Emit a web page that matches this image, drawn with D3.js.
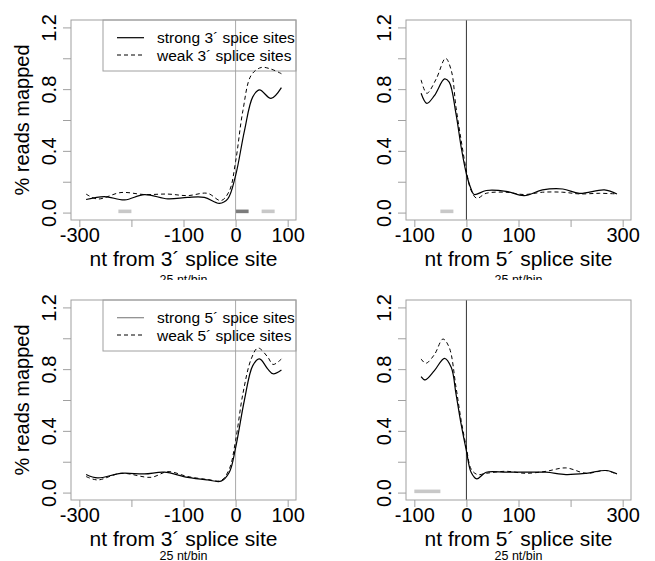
<!DOCTYPE html>
<html><head><meta charset="utf-8">
<script src="https://cdn.jsdelivr.net/npm/d3@7"></script>
<style>
html,body{margin:0;padding:0;background:#fff;}
svg{display:block;font-family:"Liberation Sans",Arial,Helvetica,sans-serif;}
</style></head>
<body><svg id="c" width="655" height="561"></svg>
<script>
// ---------- data ----------
const xTicks3 = [-300, -200, -100, 0, 100];
const xLabels3 = ["-300", "", "-100", "0", "100"];
const xTicks5 = [-100, 0, 100, 200, 300];
const xLabels5 = ["-100", "0", "100", "", "300"];
const yTicks = [0, 0.2, 0.4, 0.6, 0.8, 1.0, 1.2];
const yLabels = ["0.0", "", "0.4", "", "0.8", "", "1.2"];

const xTitle3 = "nt from 3\u00B4 splice site";
const xTitle5 = "nt from 5\u00B4 splice site";
const subTitle = "25 nt/bin";
const yTitle = "% reads mapped";
const legendTop = ["strong 3\u00B4 spice sites", "weak 3\u00B4 splice sites"];
const legendBottom = ["strong 5\u00B4 spice sites", "weak 5\u00B4 splice sites"];

// top-left (strong / weak 3' splice sites, around 3' site)
const tlStrongX = [-287, -252, -213, -175, -130, -92, -60, -31, -15, 0, 17, 33, 46, 68, 88];
const tlStrongY = [0.085, 0.104, 0.082, 0.117, 0.089, 0.099, 0.099, 0.06, 0.089, 0.24, 0.53, 0.75, 0.795, 0.74, 0.81];
const tlWeakX = [-287, -265, -220, -175, -130, -92, -54, -28, -12, 0, 14, 30, 49, 68, 88];
const tlWeakY = [0.12, 0.088, 0.13, 0.117, 0.12, 0.11, 0.125, 0.078, 0.14, 0.33, 0.66, 0.89, 0.94, 0.93, 0.90];
// top-right (around 5' site)
const trStrongX = [-87, -76, -61.5, -42, -33, -20, -10, 0, 9, 15, 38, 76, 111, 146, 185, 217, 265, 289];
const trStrongY = [0.773, 0.708, 0.758, 0.866, 0.845, 0.64, 0.423, 0.25, 0.153, 0.117, 0.143, 0.138, 0.11, 0.147, 0.153, 0.125, 0.147, 0.121];
const trWeakX = [-87, -76, -58, -40, -29, -20, -10, 0, 9, 20, 38, 76, 111, 146, 185, 217, 256, 289];
const trWeakY = [0.86, 0.773, 0.866, 1.0, 0.92, 0.683, 0.466, 0.27, 0.143, 0.093, 0.125, 0.132, 0.117, 0.132, 0.132, 0.121, 0.125, 0.121];
// bottom-left (strong / weak 5' splice sites, around 3' site)
const blStrongX = [-287, -265, -220, -175, -137, -92, -54, -28, -12, 0, 17, 33, 46, 62, 72, 88];
const blStrongY = [0.117, 0.095, 0.125, 0.121, 0.132, 0.099, 0.082, 0.074, 0.132, 0.29, 0.6, 0.823, 0.866, 0.8, 0.77, 0.795];
const blWeakX = [-287, -265, -220, -162, -130, -92, -54, -28, -12, 0, 14, 30, 43, 62, 72, 88];
const blWeakY = [0.104, 0.082, 0.125, 0.099, 0.136, 0.104, 0.085, 0.078, 0.153, 0.337, 0.64, 0.866, 0.937, 0.877, 0.83, 0.866];
// bottom-right (around 5' site)
const brStrongX = [-87, -79, -61.5, -42, -29, -20, -10, 0, 9, 20, 38, 76, 114, 153, 191, 230, 268, 289];
const brStrongY = [0.752, 0.73, 0.79, 0.87, 0.81, 0.64, 0.44, 0.27, 0.132, 0.089, 0.132, 0.132, 0.132, 0.132, 0.117, 0.125, 0.143, 0.121];
const brWeakX = [-87, -78, -61.5, -45, -33, -20, -10, 0, 9, 21, 38, 76, 114, 153, 191, 230, 268, 289];
const brWeakY = [0.866, 0.838, 0.894, 0.995, 0.94, 0.683, 0.466, 0.29, 0.153, 0.117, 0.125, 0.138, 0.125, 0.138, 0.16, 0.125, 0.143, 0.117];

// grey marker bars [start, end, shade]
const tlBars = [[-225, -200, "light"], [0, 25, "dark"], [50, 75, "light"]];
const trBars = [[-50, -25, "light"]];
const blBars = [];
const brBars = [[-100, -50, "light"]];

// ---------- drawing ----------
const svg = d3.select("#c");
const FONT = 20;
const TITLE_FONT = 21;
const barColor = {light: "#c8c8c8", dark: "#7c7c7c"};

const panels = [
  {ox: 0, oy: 0, side: "L", sx: tlStrongX, sy: tlStrongY, wx: tlWeakX, wy: tlWeakY, bars: tlBars, legend: legendTop, legStrongCol: "#000", subY: 283.5},
  {ox: 335, oy: 0, side: "R", sx: trStrongX, sy: trStrongY, wx: trWeakX, wy: trWeakY, bars: trBars, legend: null, subY: 283.5},
  {ox: 0, oy: 280, side: "L", sx: blStrongX, sy: blStrongY, wx: blWeakX, wy: blWeakY, bars: blBars, legend: legendBottom, legStrongCol: "#888", subY: 279.5},
  {ox: 335, oy: 280, side: "R", sx: brStrongX, sy: brStrongY, wx: brWeakX, wy: brWeakY, bars: brBars, legend: null, subY: 279.5}
];

const defs = svg.append("defs");
defs.append("clipPath").attr("id", "clipTop").append("rect").attr("x", 0).attr("y", 0).attr("width", 655).attr("height", 280);
defs.append("clipPath").attr("id", "clipBot").append("rect").attr("x", 0).attr("y", 280).attr("width", 655).attr("height", 281);

panels.forEach(p => {
  const g = svg.append("g").attr("clip-path", p.oy === 0 ? "url(#clipTop)" : "url(#clipBot)")
    .append("g").attr("transform", `translate(${p.ox},${p.oy})`);
  const left = p.side === "L";
  const xDom = left ? [-316, 116] : [-116, 316];
  const x = d3.scaleLinear().domain(xDom).range([71, 296]);
  const y = d3.scaleLinear().domain([-0.048, 1.248]).range([220, 20]);
  const ticks = left ? xTicks3 : xTicks5;
  const labels = left ? xLabels3 : xLabels5;

  // bars
  g.selectAll("rect.bar").data(p.bars).enter().append("rect")
    .attr("x", d => x(d[0])).attr("width", d => x(d[1]) - x(d[0]))
    .attr("y", y(0.008) - 1.8).attr("height", 3.6)
    .attr("fill", d => barColor[d[2]]);

  // vertical line at 0
  g.append("line").attr("x1", x(0)).attr("x2", x(0)).attr("y1", 20).attr("y2", 220)
    .attr("stroke", left ? "#aaaaaa" : "#333333").attr("stroke-width", 1);

  // box
  g.append("rect").attr("x", 71).attr("y", 20).attr("width", 225).attr("height", 200)
    .attr("fill", "none").attr("stroke", "#a0a0a0").attr("stroke-width", 1);

  // x axis
  const xa = d3.axisBottom(x).tickValues(ticks).tickSize(7).tickPadding(8)
    .tickFormat((d, i) => labels[i]);
  const xg = g.append("g").attr("transform", "translate(0,220)").call(xa);
  xg.select(".domain").remove();
  xg.selectAll(".tick line").attr("stroke", "#a0a0a0");
  xg.selectAll(".tick text").attr("font-size", FONT).attr("fill", "#000")
    .attr("font-family", "Liberation Sans, Arial, sans-serif").attr("dy", null).attr("y", 21.5);

  // y axis
  const ya = d3.axisLeft(y).tickValues(yTicks).tickSize(8).tickFormat((d, i) => yLabels[i]);
  const yg = g.append("g").attr("transform", "translate(71,0)").call(ya);
  yg.select(".domain").remove();
  yg.selectAll(".tick line").attr("stroke", "#a0a0a0");
  yg.selectAll(".tick text").attr("font-size", FONT).attr("fill", "#000")
    .attr("font-family", "Liberation Sans, Arial, sans-serif")
    .attr("x", null).attr("dy", null).attr("text-anchor", "middle")
    .attr("transform", "translate(-15,0) rotate(-90)");

  // titles
  g.append("text").attr("x", 183.5).attr("y", 265.5).attr("text-anchor", "middle")
    .attr("font-size", TITLE_FONT).text(left ? xTitle3 : xTitle5);
  g.append("text").attr("x", 183.5).attr("y", p.subY).attr("text-anchor", "middle")
    .attr("font-size", 12.5).text(subTitle);
  if (left) {
    g.append("text").attr("transform", "translate(29,120) rotate(-90)").attr("text-anchor", "middle")
      .attr("font-size", FONT).text(yTitle);
  }

  // legend
  if (p.legend) {
    g.append("rect").attr("x", 103).attr("y", 20).attr("width", 193).attr("height", 51)
      .attr("fill", "none").attr("stroke", "#a0a0a0");
    const rows = [37.7, 55];
    g.append("line").attr("x1", 117).attr("x2", 144).attr("y1", rows[0]).attr("y2", rows[0])
      .attr("stroke", p.legStrongCol).attr("stroke-width", 1.2);
    g.append("line").attr("x1", 117).attr("x2", 144).attr("y1", rows[1]).attr("y2", rows[1])
      .attr("stroke", "#000").attr("stroke-width", 1).attr("stroke-dasharray", "4,3");
    p.legend.forEach((t, i) => {
      g.append("text").attr("x", 157).attr("y", rows[i] + 5.5).attr("font-size", 15.5).text(t);
    });
  }

  // curves
  const line = d3.line().x(d => x(d[0])).y(d => y(d[1])).curve(d3.curveCatmullRom.alpha(0.5));
  const strong = p.sx.map((v, i) => [v, p.sy[i]]);
  const weak = p.wx.map((v, i) => [v, p.wy[i]]);
  g.append("path").attr("d", line(weak)).attr("fill", "none").attr("stroke", "#000")
    .attr("stroke-width", 1).attr("stroke-dasharray", "4,3");
  g.append("path").attr("d", line(strong)).attr("fill", "none").attr("stroke", "#000")
    .attr("stroke-width", 1.2);
});
</script></body></html>
